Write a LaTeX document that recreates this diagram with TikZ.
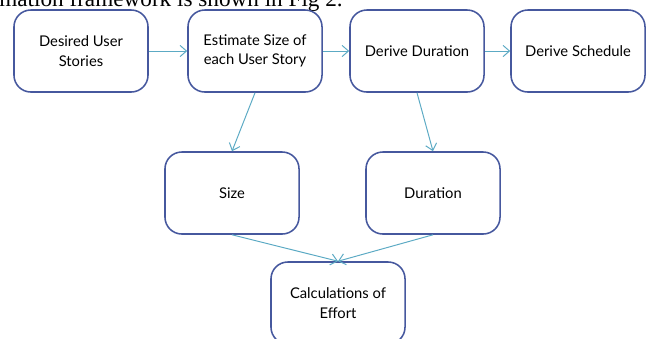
\documentclass[tikz,border=0pt]{standalone}
\usepackage{fontspec}
\setmainfont{Lato}
\newfontfamily\captionfont{Liberation Serif}
\usetikzlibrary{arrows.meta}
\definecolor{boxline}{RGB}{70,88,158}
\definecolor{flowline}{RGB}{92,170,196}
\begin{document}
\begin{tikzpicture}[x=0.025cm,y=-0.025cm,
    stage/.style={draw=boxline,line width=1.1pt,rounded corners=12,
      minimum width=3.35cm,minimum height=2.05cm,align=center,
      font=\fontsize{10.5}{14}\selectfont},
    flow/.style={-{Straight Barb[length=1.6mm,width=2.8mm]},draw=flowline,line width=0.7pt}]
  \useasboundingbox (0,0) rectangle (648,338);
  \node[anchor=base west,font=\captionfont\fontsize{16.5}{18}\selectfont,inner sep=0pt]
    (caption) at (-1,6) {mation framework is shown in Fig 2.};

  % top row
  \node[stage] (stories)  at (81,51)  {Desired User\\Stories};
  \node[stage] (estimate) at (255,51) {Estimate Size of\\each User Story};
  \node[stage] (derivedur) at (417,51) {Derive Duration};
  \node[stage] (schedule) at (578,51) {Derive Schedule};

  % middle and bottom
  \node[stage] (size)     at (232,193) {Size};
  \node[stage] (duration) at (433,193) {Duration};
  \node[stage] (effort)   at (338,303) {Calculations of\\Effort};

  \draw[flow] (stories) -- (estimate);
  \draw[flow] (estimate) -- (derivedur);
  \draw[flow] (derivedur) -- (schedule);
  \draw[flow] (estimate.south) -- (size.north);
  \draw[flow] (derivedur.south) -- (duration.north);
  \draw[flow] (size.south) -- (effort.north);
  \draw[flow] (duration.south) -- (effort.north);
\end{tikzpicture}
\end{document}
